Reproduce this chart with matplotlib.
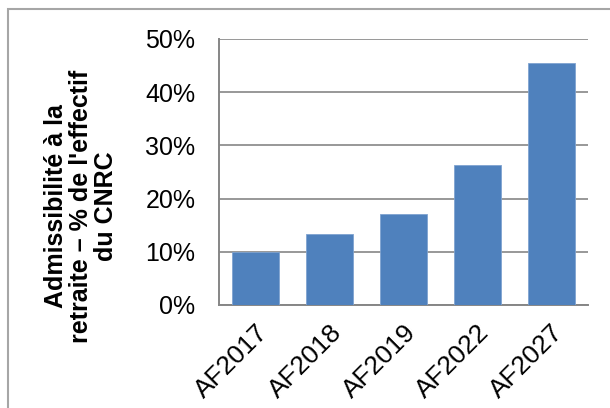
import matplotlib
matplotlib.use("Agg")
import matplotlib.pyplot as plt
from matplotlib.patches import Rectangle
from matplotlib.ticker import FuncFormatter

categories = ["AF2017", "AF2018", "AF2019", "AF2022", "AF2027"]
values = [10.0, 13.3, 17.1, 26.3, 45.4]
yticks = [0, 10, 20, 30, 40, 50]

plt.rcParams['font.family'] = ['Liberation Sans', 'DejaVu Sans']

fig = plt.figure(figsize=(6.10, 4.08), dpi=100)
fig.patch.set_facecolor("white")

ax = fig.add_axes([219/610, 1-305/408, (588-219)/610, (305-39)/408])
x = range(len(categories))
ax.bar(x, values, width=0.635, color="#4F81BD", edgecolor="#7FA3D0", linewidth=0.6, zorder=3)
ax.set_xlim(-0.5, len(categories)-0.5)
ax.set_ylim(0, 50)
ax.set_yticks(yticks)
ax.yaxis.set_major_formatter(FuncFormatter(lambda v, p: f"{int(v)}%"))
ax.grid(axis="y", color="#868686", linewidth=1.2, zorder=0)
for s in ["top", "right"]:
    ax.spines[s].set_visible(False)
for s in ["left", "bottom"]:
    ax.spines[s].set_color("#868686")
    ax.spines[s].set_linewidth(1.4)
ax.tick_params(axis="y", length=0, pad=17, labelsize=18)
ax.tick_params(axis="x", length=0, pad=11)
ax.set_xticks(list(x))
ax.set_xticklabels(categories, rotation=45, ha="right", va="top", rotation_mode="anchor", fontsize=19)

fig.text(81/610, 1-206/408, "Admissibilité à la\nretraite – % de l'effectif\ndu CNRC",
         rotation=90, ha="center", va="center", multialignment="center",
         fontsize=18, fontweight="bold", linespacing=1.05)

fig.patches.append(Rectangle((8/610, -0.1), 1.2, 1-9/408+0.1, transform=fig.transFigure,
                             fill=False, edgecolor="#A6A6A6", linewidth=1.5))

fig.savefig("out.png", dpi=100)
